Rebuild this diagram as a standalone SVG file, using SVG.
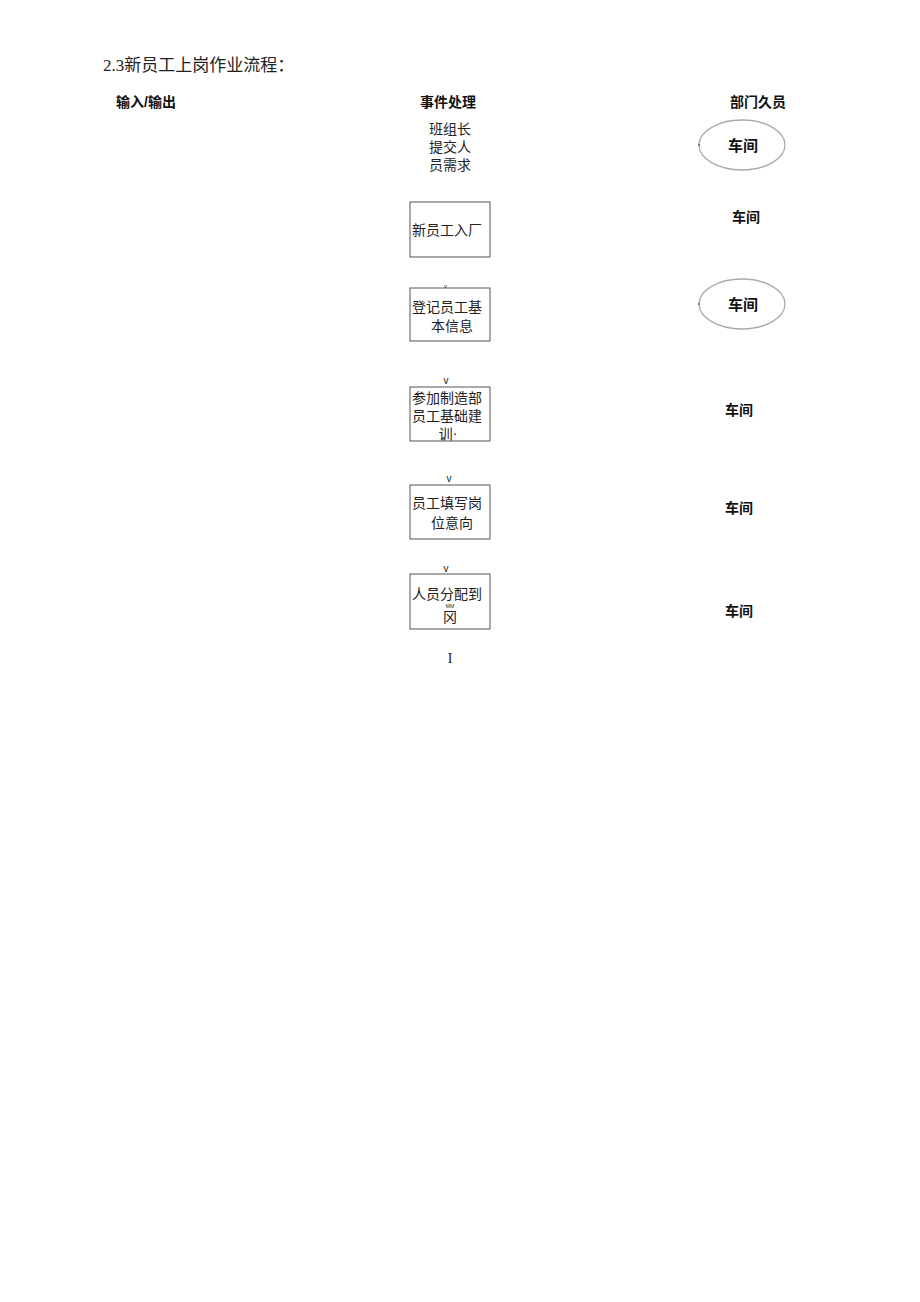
<svg xmlns="http://www.w3.org/2000/svg" width="920" height="1302" viewBox="0 0 920 1302">
<style>
.t{font-family:"Liberation Serif","Noto Sans CJK SC",serif;font-size:14px;fill:#222}
.h{font-family:"Liberation Sans","Noto Sans CJK SC",sans-serif;font-size:14px;font-weight:bold;fill:#111}
.box{fill:#fff;stroke:#555;stroke-width:1}
.ell{fill:#fff;stroke:#aaa;stroke-width:1.3}
.m{font-family:"Liberation Sans",sans-serif;font-size:10px;fill:#222}
</style>
<rect width="920" height="1302" fill="#fff"/>
<text x="103" y="71" class="t" style="font-size:17px">2.3新员工上岗作业流程：</text>
<text x="116" y="107" class="h">输入/输出</text>
<text x="448" y="107" class="h" text-anchor="middle">事件处理</text>
<text x="758" y="107" class="h" text-anchor="middle">部门久员</text>

<g id="n0">
<text x="450" y="134" class="t" text-anchor="middle">班组长</text>
<text x="450" y="152" class="t" text-anchor="middle">提交人</text>
<text x="450" y="170" class="t" text-anchor="middle">员需求</text>
</g>
<g id="d0"><ellipse cx="742" cy="145" rx="43" ry="25" class="ell"/><text x="743" y="151" class="h" text-anchor="middle" style="font-size:15px">车间</text></g>

<g id="n1"><rect x="410" y="202" width="80" height="55" class="box"/><text x="447" y="235" class="t" text-anchor="middle">新员工入厂</text></g>
<g id="d1"><text x="746" y="222" class="h" text-anchor="middle">车间</text></g>

<g id="n2"><rect x="410" y="288" width="80" height="53" class="box"/><text x="447" y="312" class="t" text-anchor="middle">登记员工基</text><text x="452" y="331" class="t" text-anchor="middle">本信息</text></g>
<g id="d2"><ellipse cx="742" cy="304" rx="43" ry="25" class="ell"/><text x="743" y="310" class="h" text-anchor="middle" style="font-size:15px">车间</text></g>

<g id="n3"><rect x="410" y="387" width="80" height="54" class="box"/><text x="447" y="403" class="t" text-anchor="middle">参加制造部</text><text x="447" y="421" class="t" text-anchor="middle">员工基础建</text><text x="448" y="439" class="t" text-anchor="middle">训·</text></g>
<g id="d3"><text x="739" y="415" class="h" text-anchor="middle">车间</text></g>

<g id="n4"><rect x="410" y="485" width="80" height="54" class="box"/><text x="447" y="508" class="t" text-anchor="middle">员工填写岗</text><text x="452" y="528" class="t" text-anchor="middle">位意向</text></g>
<g id="d4"><text x="739" y="513" class="h" text-anchor="middle">车间</text></g>

<g id="n5"><rect x="410" y="574" width="80" height="55" class="box"/><text x="447" y="599" class="t" text-anchor="middle">人员分配到</text><text x="450" y="622" class="t" text-anchor="middle">冈</text></g>
<g id="d5"><text x="739" y="616" class="h" text-anchor="middle">车间</text></g>

<g id="connectors">
<text x="444" y="288" class="m" style="font-size:6px">v</text>
<text x="446" y="384" class="m" text-anchor="middle">v</text>
<text x="449" y="482" class="m" text-anchor="middle">v</text>
<text x="446" y="572" class="m" text-anchor="middle">v</text>
<text x="450" y="608" class="m" text-anchor="middle" style="font-size:5px">MM</text>
<text x="450" y="663" class="t" text-anchor="middle">I</text>
<path d="M698 145h2M698 304h2" stroke="#333" stroke-width="1"/>
</g>
</svg>
